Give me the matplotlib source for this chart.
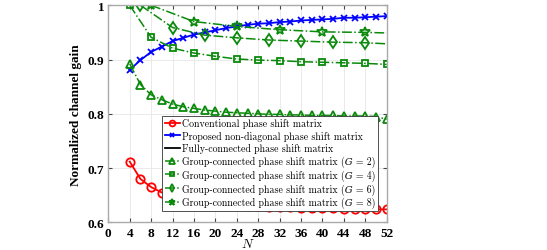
import matplotlib
matplotlib.use("Agg")
from matplotlib import pyplot as plt

plt.rcParams['mathtext.fontset'] = 'cm'

# data
n_all = [4, 6, 8, 10, 12, 14, 16, 18, 20, 22, 24, 26, 28,
         30, 32, 34, 36, 38, 40, 42, 44, 46, 48, 50, 52]
conventional = [0.712, 0.680, 0.665, 0.655, 0.648, 0.643, 0.640, 0.637, 0.635,
                0.634, 0.632, 0.631, 0.630, 0.629, 0.628, 0.628, 0.627, 0.627,
                0.626, 0.626, 0.625, 0.625, 0.625, 0.624, 0.624]
proposed = [0.881, 0.899, 0.914, 0.924, 0.934, 0.940, 0.946, 0.950, 0.954,
            0.958, 0.961, 0.964, 0.966, 0.967, 0.969, 0.970, 0.972, 0.973,
            0.974, 0.975, 0.977, 0.977, 0.978, 0.979, 0.980]
fully = [1.0] * len(n_all)
g2 = [0.892, 0.854, 0.835, 0.826, 0.818, 0.813, 0.810, 0.807, 0.805, 0.803,
      0.802, 0.801, 0.800, 0.799, 0.799, 0.798, 0.798, 0.797, 0.797, 0.797,
      0.796, 0.796, 0.796, 0.795, 0.790]
n_g4 = [4, 8, 12, 16, 20, 24, 28, 32, 36, 40, 44, 48, 52]
g4 = [1.0, 0.941, 0.921, 0.912, 0.906, 0.901, 0.899, 0.898, 0.896, 0.895,
      0.894, 0.893, 0.891]
n_g6 = [6, 12, 18, 24, 30, 36, 42, 48, 52]
g6 = [1.0, 0.959, 0.945, 0.940, 0.936, 0.934, 0.932, 0.931, 0.929]
n_g8 = [8, 16, 24, 32, 40, 48, 52]
g8 = [1.0, 0.970, 0.961, 0.955, 0.951, 0.950, 0.949]

green = '#0a8a0a'

fig = plt.figure(figsize=(5.47, 2.51), dpi=100)
ax = fig.add_axes([0.198, 0.110, 0.509, 0.865])

ax.plot(n_all, conventional, '-o', color='red', mfc='none', ms=6, lw=1.3, mew=1.3,
        label='Conventional phase shift matrix')
ax.plot(n_all, proposed, '-x', color='blue', ms=5, lw=1.3, mew=1.3,
        label='Proposed non-diagonal phase shift matrix')
ax.plot(n_all, fully, '-', color='black', lw=1.3,
        label='Fully-connected phase shift matrix')
ax.plot(n_all, g2, '-.^', color=green, mfc='none', ms=6, lw=1.1, mew=1.3,
        label='Group-connected phase shift matrix (\U0001D43A = 2)')
ax.plot(n_g4, g4, '-.s', color=green, mfc='none', ms=5, lw=1.1, mew=1.3,
        label='Group-connected phase shift matrix (\U0001D43A = 4)')
ax.plot(n_g6, g6, '-.d', color=green, mfc='none', ms=6, lw=1.1, mew=1.3,
        markevery=list(range(len(n_g6) - 1)),
        label='Group-connected phase shift matrix (\U0001D43A = 6)')
ax.plot(n_g8, g8, '-.*', color=green, mfc='none', ms=7, lw=1.1, mew=1.3,
        markevery=list(range(len(n_g8) - 1)),
        label='Group-connected phase shift matrix (\U0001D43A = 8)')

ax.set_xlim(0, 52)
ax.set_ylim(0.6, 1.0)
ax.set_xticks(range(0, 53, 4))
ax.set_yticks([0.6, 0.7, 0.8, 0.9, 1.0])
ax.set_yticklabels(['0.6', '0.7', '0.8', '0.9', '1'])
ax.grid(True, color='#e6e6e6', lw=0.6)
ax.set_axisbelow(True)
ax.tick_params(direction='in', length=3, color='#444444', top=True, right=True, pad=3)
for s in ax.spines.values():
    s.set_color('#aaaaaa')
    s.set_linewidth(1.0)
for lab in ax.get_xticklabels() + ax.get_yticklabels():
    lab.set_family('Liberation Serif')
    lab.set_fontweight('bold')
    lab.set_fontsize(9.5)

ax.set_ylabel('Normalized channel gain', family='Liberation Serif',
              fontweight='bold', fontsize=9.5)
ax.set_xlabel('$N$', fontsize=9.5, labelpad=-1)

leg = ax.legend(loc='upper left', bbox_to_anchor=(0.194, 0.49), borderaxespad=0,
                prop={'family': ['cmr10', 'DejaVu Serif', 'DejaVu Sans'], 'size': 7.1},
                handlelength=1.5, handletextpad=0.25, labelspacing=0.25, borderpad=0.25,
                markerscale=0.7, fancybox=False, framealpha=1, edgecolor='#333333')
leg.get_frame().set_linewidth(0.6)

fig.savefig('out.png', dpi=100)
